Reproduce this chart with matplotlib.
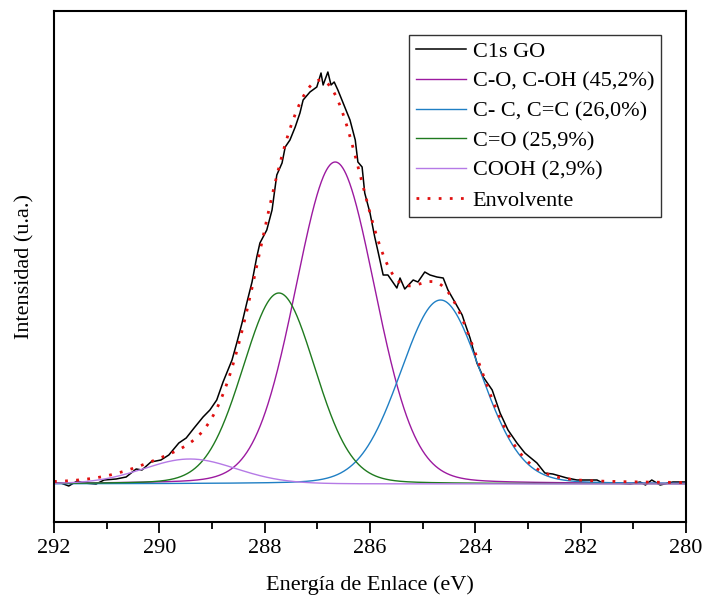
import numpy as np
import matplotlib
matplotlib.use("Agg")
import matplotlib.pyplot as plt
from matplotlib.ticker import MultipleLocator

plt.rcParams['font.family'] = ['Liberation Serif', 'DejaVu Serif']

# Espectro C1s GO, energia de enlace (eV) e intensidad (u.a.)
energia = [292.00, 291.87, 291.72, 291.56, 291.43, 291.20, 291.05, 290.82, 290.63, 290.44,
           290.33, 290.16, 289.97, 289.82, 289.63, 289.49, 289.34, 289.17, 289.04, 288.91,
           288.79, 288.62, 288.53, 288.43, 288.34, 288.24, 288.15, 288.09, 287.96, 287.86,
           287.77, 287.67, 287.61, 287.52, 287.42, 287.33, 287.27, 287.14, 287.01, 286.93,
           286.89, 286.80, 286.74, 286.68, 286.61, 286.51, 286.38, 286.28, 286.23, 286.15,
           286.10, 286.00, 285.91, 285.85, 285.75, 285.66, 285.49, 285.43, 285.34, 285.18,
           285.09, 284.96, 284.86, 284.73, 284.61, 284.52, 284.39, 284.25, 284.20, 284.10,
           283.97, 283.85, 283.68, 283.53, 283.38, 283.21, 283.06, 282.83, 282.68, 282.53,
           282.26, 282.07, 281.69, 281.58, 281.31, 281.06, 280.87, 280.77, 280.65, 280.49,
           280.25, 280.02]
intensidad = [1, 1, -2, 3, 1, 0, 4, 5, 7, 15,
              14, 22, 24, 29, 41, 46, 56, 67, 74, 84,
              102, 124, 141, 161, 181, 202, 227, 241, 254, 274,
              309, 321, 337, 344, 357, 371, 384, 392, 397, 411,
              399, 412, 399, 402, 394, 381, 364, 344, 322, 317,
              291, 271, 247, 233, 209, 209, 196, 206, 195, 204,
              202, 212, 209, 207, 206, 194, 182, 169, 161, 146,
              121, 107, 94, 71, 54, 41, 31, 21, 11, 10,
              6, 4, 4, 1, 1, 0, 2, -1, 4, -1,
              2, 2]

# Componentes del ajuste: centro (eV), altura, FWHM (eV), fraccion lorentziana
etiquetas = ['C-O, C-OH (45,2%)', 'C- C, C=C (26,0%)', 'C=O (25,9%)', 'COOH (2,9%)']
centros = [286.66, 284.66, 287.73, 289.42]
alturas = [322, 184, 191, 25]
fwhm = [1.78, 1.80, 1.62, 2.10]
frac_l = [0.1, 0.1, 0.1, 0.1]
colores = ['#9c1aa0', '#1f7fc4', '#1f7a1f', '#b57ae6']


def pseudo_voigt(x, c, h, w, m):
    g = np.exp(-4 * np.log(2) * ((x - c) / w) ** 2)
    l = 1.0 / (1.0 + 4 * ((x - c) / w) ** 2)
    return h * (m * l + (1 - m) * g)


x = np.linspace(292, 280, 1200)
comps = [pseudo_voigt(x, c, h, w, m) for c, h, w, m in zip(centros, alturas, fwhm, frac_l)]
envolvente = np.sum(comps, axis=0)

fig = plt.figure(figsize=(7.06, 6.03), dpi=100)
ax = fig.add_axes([54 / 706, 1 - 522 / 603, 632 / 706, 511 / 603])

ax.plot(energia, intensidad, color='black', lw=1.1, label='C1s GO')
for y, lab, col in zip(comps, etiquetas, colores):
    ax.plot(x, y, color=col, lw=1.0, label=lab)
ax.plot(x, envolvente, color='#e01010', lw=2.0, linestyle=(0, (1, 3)), label='Envolvente')

ax.set_xlim(292, 280)
ax.set_ylim(-38, 473)
ax.xaxis.set_major_locator(MultipleLocator(2))
ax.xaxis.set_minor_locator(MultipleLocator(1))
ax.tick_params(axis='x', which='major', direction='out', length=8, width=1.3, labelsize=16, pad=4)
ax.tick_params(axis='x', which='minor', direction='out', length=5, width=1.3)
ax.set_yticks([])
for s in ax.spines.values():
    s.set_linewidth(1.5)

ax.set_xlabel('Energía de Enlace (eV)', fontsize=16, labelpad=13)
ax.set_ylabel('Intensidad (u.a.)', fontsize=16, labelpad=14)

leg = ax.legend(loc='upper right', bbox_to_anchor=(0.960, 0.953), borderaxespad=0,
                fontsize=16, frameon=True, fancybox=False, edgecolor='black',
                labelspacing=0.41, handlelength=2.25, handletextpad=0.3, borderpad=0.3)
leg.get_frame().set_linewidth(1.0)

fig.savefig('out.png', dpi=100)
